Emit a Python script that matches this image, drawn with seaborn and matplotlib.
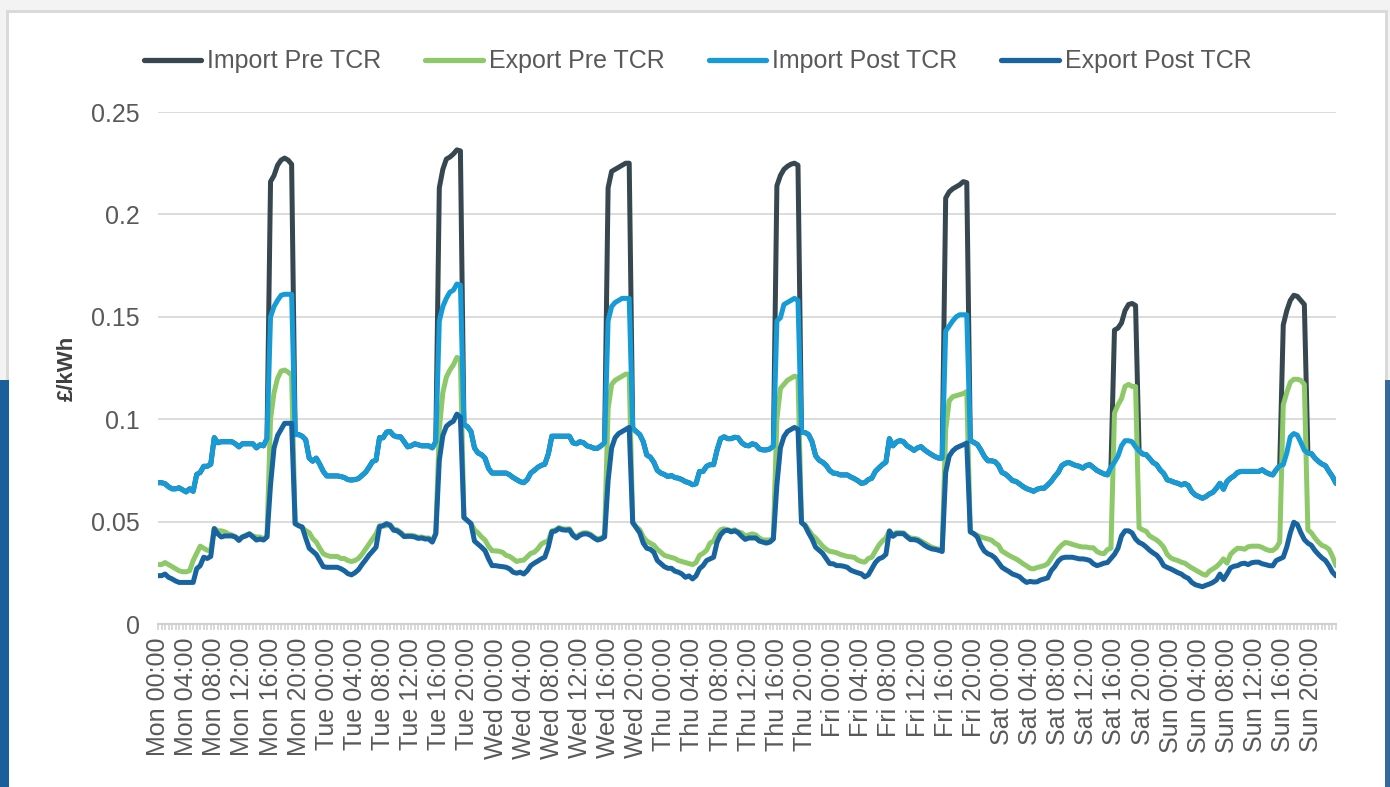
import numpy as np
import pandas as pd
import matplotlib
matplotlib.use("Agg")
import matplotlib.pyplot as plt
from matplotlib.lines import Line2D
from matplotlib.patches import Rectangle
import seaborn as sns

# ---------------- data (half-hourly, £/kWh) ----------------
days = ["Mon", "Tue", "Wed", "Thu", "Fri", "Sat", "Sun"]
slot_times = [f"{h // 2:02d}:{30 * (h % 2):02d}" for h in range(48)]
peak_times = ["16:00", "16:30", "17:00", "17:30", "18:00", "18:30", "19:00"]
series_names = ["Import Pre TCR", "Export Pre TCR", "Import Post TCR", "Export Post TCR"]

import_post_mon = [0.069,0.069,0.0685,0.067,0.066,0.066,0.0665,0.0655,0.0645,0.066,0.0648,0.073,0.074,0.077,0.077,0.078,
                   0.091,0.0885,0.089,0.089,0.089,0.089,0.088,0.0865,0.088,0.088,0.088,0.088,0.086,0.0875,0.087,0.0905,
                   0.150,0.155,0.158,0.1605,0.161,0.161,0.161,
                   0.0925,0.0925,0.0917,0.090,0.081,0.0795,0.081,0.078,0.0745]
import_post_tue = [0.0723,0.0723,0.0723,0.0723,0.072,0.0715,0.0705,0.0703,0.0705,0.071,0.0725,0.074,0.0765,0.0793,0.080,0.091,
                   0.0909,0.0937,0.094,0.092,0.0914,0.0914,0.089,0.0865,0.087,0.088,0.0875,0.087,0.087,0.087,0.086,0.089,
                   0.148,0.155,0.159,0.162,0.163,0.166,0.1655,
                   0.0975,0.0963,0.094,0.086,0.0835,0.0827,0.081,0.076,0.0737]
import_post_wed = [0.0737,0.0737,0.0737,0.0737,0.0728,0.0715,0.0705,0.0695,0.069,0.0705,0.0737,0.075,0.0765,0.0775,0.078,0.083,
                   0.0917,0.0917,0.0917,0.0917,0.0917,0.0917,0.0885,0.088,0.089,0.0885,0.087,0.0865,0.0858,0.0858,0.087,0.0885,
                   0.148,0.155,0.157,0.158,0.159,0.159,0.159,
                   0.0955,0.094,0.0925,0.089,0.0825,0.0815,0.079,0.075,0.0737]
import_post_thu = [0.073,0.072,0.0725,0.0715,0.0712,0.0705,0.0695,0.069,0.068,0.0685,0.0745,0.0745,0.077,0.0778,0.0778,0.085,
                   0.0905,0.0914,0.0905,0.0905,0.0912,0.0909,0.0885,0.0873,0.087,0.088,0.0875,0.0855,0.085,0.085,0.0855,0.0868,
                   0.148,0.1495,0.156,0.157,0.158,0.159,0.158,
                   0.0935,0.0935,0.0925,0.089,0.0822,0.080,0.079,0.0775,0.075]
import_post_fri = [0.0737,0.0735,0.0728,0.0728,0.0728,0.0718,0.071,0.070,0.0687,0.069,0.0705,0.0712,0.0745,0.0762,0.0778,0.079,
                   0.0905,0.087,0.0888,0.0896,0.089,0.087,0.086,0.0848,0.086,0.0866,0.085,0.0838,0.0827,0.0817,0.081,0.081,
                   0.143,0.1455,0.148,0.150,0.151,0.151,0.151,
                   0.0895,0.0887,0.0877,0.085,0.0818,0.0797,0.0797,0.0793,0.0775]
import_post_sat = [0.074,0.0732,0.0717,0.070,0.0696,0.0684,0.0671,0.0661,0.0655,0.0648,0.0658,0.0663,0.0663,0.0679,0.0696,0.072,
                   0.074,0.0773,0.0784,0.0789,0.0781,0.0774,0.077,0.0761,0.0774,0.0778,0.0764,0.075,0.0741,0.0733,0.0728,0.0765,
                   0.079,0.082,0.087,0.0895,0.0895,0.089,0.0865,
                   0.0845,0.083,0.0827,0.0808,0.0788,0.0778,0.0752,0.0735,0.0704]
import_post_sun = [0.0699,0.0692,0.0687,0.0679,0.0686,0.0676,0.0646,0.063,0.0622,0.0614,0.0622,0.0635,0.0643,0.0663,0.0687,0.0658,
                   0.0696,0.0712,0.0723,0.074,0.0745,0.0745,0.0745,0.0745,0.0745,0.0745,0.0753,0.0741,0.0733,0.0728,0.0753,0.0773,
                   0.0778,0.0835,0.0914,0.093,0.0922,0.0887,0.0848,
                   0.0835,0.0832,0.081,0.0794,0.0781,0.0773,0.0745,0.072,0.0687]

# Import Pre TCR: during the 16:00-19:00 peak (off-peak it coincides with Import Post TCR)
import_pre_peak_mon = [0.216, 0.219, 0.224, 0.2265, 0.2275, 0.2265, 0.2245]
import_pre_peak_tue = [0.213, 0.222, 0.227, 0.228, 0.2295, 0.2315, 0.231]
import_pre_peak_wed = [0.213, 0.221, 0.222, 0.223, 0.224, 0.225, 0.225]
import_pre_peak_thu = [0.214, 0.219, 0.222, 0.2235, 0.2245, 0.225, 0.224]
import_pre_peak_fri = [0.208, 0.211, 0.2125, 0.2135, 0.2145, 0.216, 0.2155]
import_pre_peak_sat = [0.1435, 0.1445, 0.147, 0.153, 0.156, 0.1565, 0.1555]
import_pre_peak_sun = [0.146, 0.153, 0.158, 0.1605, 0.160, 0.158, 0.156]

export_pre_mon = [0.029,0.029,0.030,0.029,0.028,0.027,0.026,0.0255,0.0255,0.026,0.031,0.0345,0.038,0.037,0.036,0.036,
                  0.0466,0.0455,0.0455,0.045,0.044,0.0435,0.0425,0.0415,0.0425,0.0435,0.044,0.043,0.0425,0.0425,0.0415,0.043,
                  0.100,0.113,0.120,0.1235,0.124,0.123,0.1215,
                  0.049,0.048,0.047,0.0457,0.0446,0.0417,0.040,0.037,0.0343]
export_pre_tue = [0.0335,0.033,0.033,0.033,0.032,0.032,0.031,0.0305,0.031,0.032,0.034,0.0365,0.039,0.0415,0.044,0.048,
                  0.0478,0.048,0.0485,0.0463,0.046,0.0448,0.0432,0.0433,0.0433,0.043,0.0423,0.0425,0.042,0.042,0.0405,0.0445,
                  0.095,0.113,0.1205,0.124,0.1265,0.1302,0.129,
                  0.052,0.0505,0.049,0.046,0.0445,0.0425,0.041,0.038,0.0358]
export_pre_wed = [0.0357,0.0355,0.035,0.0335,0.033,0.0318,0.0305,0.031,0.0312,0.0328,0.0345,0.035,0.0367,0.039,0.040,0.0405,
                  0.0455,0.0459,0.0471,0.0465,0.0463,0.0465,0.0438,0.0425,0.0438,0.0445,0.0445,0.0438,0.0425,0.0415,0.042,0.043,
                  0.105,0.117,0.119,0.120,0.121,0.122,0.122,
                  0.0495,0.0475,0.046,0.0425,0.0405,0.0395,0.0385,0.0365,0.035]
export_pre_thu = [0.0335,0.033,0.0325,0.032,0.031,0.0305,0.030,0.0295,0.029,0.030,0.0335,0.0345,0.036,0.0395,0.0405,0.044,
                  0.046,0.0465,0.046,0.0455,0.046,0.045,0.0445,0.043,0.0435,0.044,0.0435,0.042,0.041,0.041,0.041,0.042,
                  0.100,0.115,0.117,0.119,0.120,0.121,0.1205,
                  0.0495,0.0485,0.046,0.0435,0.042,0.040,0.038,0.0365,0.0355]
export_pre_fri = [0.0352,0.0348,0.034,0.0335,0.033,0.0328,0.0325,0.0312,0.0305,0.0302,0.032,0.0326,0.0355,0.0385,0.0405,0.042,
                  0.0455,0.0435,0.0446,0.0446,0.0445,0.043,0.042,0.0418,0.0415,0.0405,0.0395,0.0385,0.0375,0.037,0.0365,0.036,
                  0.095,0.109,0.111,0.1115,0.112,0.1125,0.1135,
                  0.045,0.0441,0.0433,0.0425,0.042,0.0415,0.041,0.0395,0.0385]
export_pre_sat = [0.0356,0.0346,0.0335,0.0326,0.0318,0.0307,0.0294,0.0284,0.0272,0.0269,0.0276,0.028,0.0285,0.0294,0.032,0.0345,
                  0.0367,0.0385,0.0398,0.0395,0.0389,0.0384,0.0379,0.0376,0.0376,0.0372,0.0372,0.0354,0.0346,0.0343,0.0363,0.037,
                  0.103,0.107,0.110,0.116,0.117,0.116,0.116,
                  0.047,0.046,0.0453,0.043,0.042,0.041,0.0395,0.0375,0.034]
export_pre_sun = [0.0323,0.0315,0.031,0.0302,0.0297,0.0285,0.0274,0.0264,0.0254,0.0244,0.0238,0.0258,0.0269,0.028,0.0297,0.0318,
                  0.0297,0.034,0.0357,0.037,0.0369,0.0365,0.0377,0.038,0.038,0.038,0.0374,0.0365,0.0359,0.0359,0.0372,0.040,
                  0.107,0.113,0.118,0.1195,0.1195,0.119,0.117,
                  0.046,0.0445,0.042,0.040,0.0384,0.0377,0.0365,0.033,0.0285]

export_post_mon = [0.0236,0.0236,0.0244,0.0228,0.022,0.021,0.0203,0.0203,0.0203,0.0203,0.0203,0.027,0.0285,0.0326,0.032,0.033,
                   0.0466,0.044,0.0425,0.043,0.043,0.043,0.0425,0.0408,0.0425,0.043,0.044,0.0425,0.041,0.0415,0.041,0.0425,
                   0.068,0.086,0.092,0.095,0.098,0.098,0.098,
                   0.049,0.048,0.0474,0.042,0.037,0.0355,0.034,0.031,0.028]
export_post_tue = [0.0277,0.0277,0.0277,0.0277,0.027,0.026,0.0246,0.024,0.025,0.0265,0.029,0.0312,0.0336,0.0355,0.0375,0.0475,
                   0.048,0.049,0.0482,0.0458,0.0455,0.0443,0.0427,0.0428,0.0428,0.0425,0.0418,0.042,0.0415,0.0415,0.040,0.044,
                   0.080,0.092,0.0965,0.098,0.099,0.1025,0.101,
                   0.052,0.0505,0.049,0.0405,0.039,0.0375,0.0358,0.0318,0.0285]
export_post_wed = [0.0285,0.0282,0.028,0.0277,0.0269,0.0253,0.0248,0.0253,0.0244,0.026,0.0285,0.0297,0.0307,0.0318,0.0326,0.0376,
                   0.045,0.0454,0.0466,0.046,0.0458,0.046,0.0433,0.042,0.0433,0.044,0.044,0.0433,0.042,0.041,0.0415,0.0425,
                   0.070,0.086,0.091,0.093,0.094,0.095,0.096,
                   0.0495,0.047,0.0445,0.0395,0.037,0.0365,0.035,0.031,0.0295]
export_post_thu = [0.028,0.0272,0.0272,0.0258,0.0253,0.0244,0.0228,0.0235,0.022,0.0235,0.027,0.0285,0.031,0.0318,0.0326,0.040,
                   0.0436,0.0454,0.0458,0.045,0.0455,0.0446,0.0428,0.0413,0.042,0.042,0.042,0.0405,0.040,0.0395,0.040,0.0415,
                   0.068,0.086,0.0915,0.094,0.095,0.096,0.095,
                   0.0495,0.048,0.0445,0.0415,0.0375,0.036,0.0345,0.032,0.0295]
export_post_fri = [0.0294,0.0285,0.0285,0.0282,0.0277,0.0263,0.0256,0.025,0.0245,0.023,0.024,0.027,0.030,0.0318,0.0325,0.034,
                   0.0454,0.0428,0.0441,0.0441,0.0441,0.0425,0.0412,0.0412,0.0408,0.0397,0.0384,0.0374,0.0367,0.0364,0.036,0.0354,
                   0.074,0.082,0.0845,0.086,0.0868,0.0875,0.0884,
                   0.045,0.0441,0.0425,0.0384,0.0356,0.0343,0.0336,0.0323,0.030]
export_post_sat = [0.0277,0.0266,0.0256,0.0244,0.0238,0.0231,0.0215,0.0203,0.0208,0.0205,0.0206,0.0215,0.022,0.0225,0.026,0.028,
                   0.0307,0.0322,0.0326,0.0326,0.0326,0.0322,0.0318,0.0318,0.0315,0.031,0.0294,0.0285,0.029,0.0297,0.030,0.032,
                   0.034,0.037,0.043,0.0455,0.0455,0.0445,0.0415,
                   0.0398,0.039,0.0376,0.036,0.0347,0.0336,0.0315,0.0285,0.0276]
export_post_sun = [0.0269,0.026,0.0251,0.0244,0.0231,0.0223,0.0203,0.0192,0.0187,0.0182,0.0189,0.0195,0.0203,0.0215,0.0244,0.0217,
                   0.0244,0.0274,0.0282,0.0285,0.0294,0.0297,0.029,0.0299,0.0302,0.0302,0.0294,0.029,0.0285,0.0284,0.031,0.0318,
                   0.0326,0.0376,0.0445,0.0497,0.0486,0.0446,0.0412,
                   0.0395,0.0384,0.0359,0.034,0.0323,0.031,0.0285,0.0253,0.0235]

# ---------------- assemble ----------------
categories = [f"{d} {t}" for d in days for t in slot_times]
import_post = (import_post_mon + import_post_tue + import_post_wed + import_post_thu
               + import_post_fri + import_post_sat + import_post_sun)
export_pre = (export_pre_mon + export_pre_tue + export_pre_wed + export_pre_thu
              + export_pre_fri + export_pre_sat + export_pre_sun)
export_post = (export_post_mon + export_post_tue + export_post_wed + export_post_thu
               + export_post_fri + export_post_sat + export_post_sun)
peaks = [import_pre_peak_mon, import_pre_peak_tue, import_pre_peak_wed, import_pre_peak_thu,
         import_pre_peak_fri, import_pre_peak_sat, import_pre_peak_sun]
import_pre = list(import_post)
for d, pk in zip(days, peaks):
    for t, v in zip(peak_times, pk):
        import_pre[categories.index(f"{d} {t}")] = v

frames = []
for name, vals in zip(series_names, [import_pre, export_pre, import_post, export_post]):
    frames.append(pd.DataFrame({"slot": np.arange(len(categories)), "label": categories,
                                "value": vals, "series": name}))
df = pd.concat(frames, ignore_index=True)

palette = {"Import Pre TCR": "#36474f", "Export Pre TCR": "#8dc968",
           "Import Post TCR": "#179bd7", "Export Post TCR": "#1764a0"}

# ---------------- figure ----------------
sns.set_theme(style="white")
plt.rcParams["font.family"] = ["Liberation Sans", "DejaVu Sans"]

W, H = 1390, 787
fig = plt.figure(figsize=(W / 100, H / 100), dpi=100)
fig.patch.set_facecolor("#f3f3f3")

def fr(x0, y0, x1, y1, color, z):
    fig.add_artist(Rectangle((x0 / W, 1 - y1 / H), (x1 - x0) / W, (y1 - y0) / H,
                             transform=fig.transFigure, facecolor=color, edgecolor="none", zorder=z))

fr(6, 10, 1388, H, "#dadada", -10)     # card shadow
fr(9, 13, 1385, H, "#ffffff", -9)      # white card
fr(0, 380, 9, H, "#1a5f9b", -8)        # left blue band
fr(1385, 380, W, H, "#33699c", -8)     # right blue band

ax = fig.add_axes([158 / W, 1 - 624 / H, (1336 - 158) / W, (624 - 112) / H])
ax.patch.set_alpha(0)

sns.lineplot(data=df, x="slot", y="value", hue="series", hue_order=series_names,
             palette=palette, linewidth=3.6, estimator=None, sort=False, ax=ax, legend=True)
for ln in ax.get_lines():
    ln.set_solid_joinstyle("round")
    ln.set_solid_capstyle("round")

ax.get_legend().remove()
handles = [Line2D([0], [0], color=palette[n], lw=3.8, solid_capstyle="round") for n in series_names]
fig.legend(handles, series_names, loc="center", bbox_to_anchor=(0.502, 0.922), ncol=4,
           frameon=False, fontsize=18, handlelength=2.3, handletextpad=0.25,
           columnspacing=1.75, labelcolor="#595959")

ax.set_xlim(0, len(categories) - 1)
ax.set_ylim(0, 0.25)
yt = [0, 0.05, 0.1, 0.15, 0.2, 0.25]
ax.set_yticks(yt)
ax.set_yticklabels(["0", "0.05", "0.1", "0.15", "0.2", "0.25"])
ax.yaxis.grid(True, color="#d9d9d9", lw=1.3)
ax.xaxis.grid(False)
ax.set_axisbelow(True)
for s in ["top", "right", "left"]:
    ax.spines[s].set_visible(False)
ax.spines["bottom"].set_color("#d0d0d0")
ax.spines["bottom"].set_linewidth(1.5)

ax.set_xticks(np.arange(0, len(categories), 8))
ax.set_xticklabels(categories[::8], rotation=90)
ax.set_xticks(np.arange(len(categories)), minor=True)
ax.tick_params(axis="x", which="both", direction="out", length=4, width=1.1, color="#d0d0d0", bottom=True)
ax.tick_params(axis="x", which="major", pad=6, labelsize=18, labelcolor="#595959")
ax.tick_params(axis="y", length=0, pad=13, labelsize=18, labelcolor="#595959")

ax.set_xlabel("")
ax.set_ylabel("£/kWh", fontsize=16, fontweight="bold", color="#404040")
ax.yaxis.set_label_coords(-0.068, 0.5)

fig.savefig("out.png", dpi=100, facecolor=fig.get_facecolor())
